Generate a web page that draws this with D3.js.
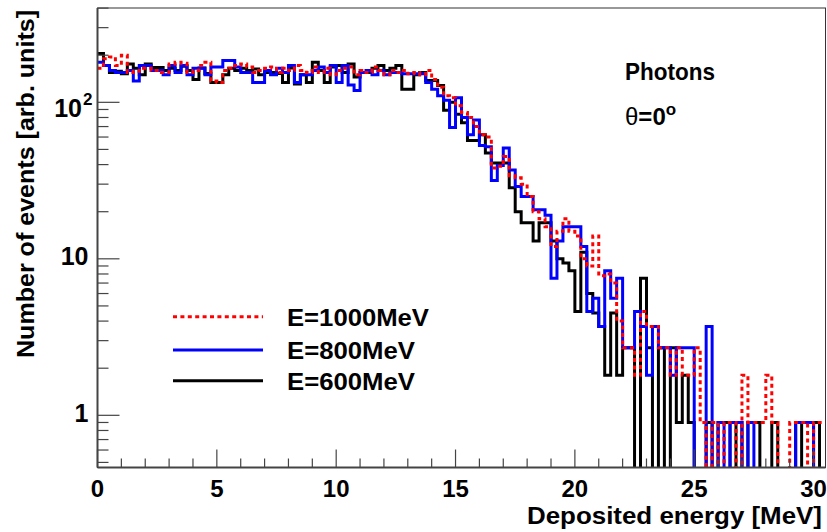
<!DOCTYPE html>
<html><head><meta charset="utf-8">
<script src="https://cdn.jsdelivr.net/npm/d3@7"></script>
<style>
body{margin:0;background:#fff}
svg text{font-family:"Liberation Sans",Arial,Helvetica,sans-serif;font-weight:bold;fill:#000}
</style>
</head><body>
<svg id="chart" width="827" height="532"></svg>
<script>
// ---- data ----
const binWidth = 0.25;
const e600 = [205,172,155,158,152,176,165,150,176,167, 167,160,165,160,170,160,140,166,153,134,
 134,150,165,160,165,160,163,150,155,155, 153,134,166,131,150,134,180,160,134,168,
 172,155,176,145,155,155,165,172,160,165, 172,121,121,150,155,138,138,128,89,100,
 84,74,57,57,62,47.5,41,41,41,28.5, 20,17,17,13,17,17,
 13,10,9.4,8.4,4.6,11,6,4.5,3.7,1.8, 4.5,1.8,2.7,2.7,0,7.5,2.7,0,2.7,0,
 2.7,0.9,1.8,0.9,0,0,0.9,0,0.9,0.9, 0,0.9,0,0.9,0.9,0,0,0.9,0,0, 0,0.9,0,0,0.9,0];
const e800 = [180,172,160,155,155,160,137,172,172,160, 160,150,172,155,172,150,165,165,150,168,
 168,185,185,168,155,155,134,134,160,150, 165,155,172,134,150,150,160,168,155,172,
 134,172,129,119,155,160,150,160,150,155, 155,152,152,152,152,134,121,110,103,69,
 107,80,62,77,53,52,31.6,39.5,51,37, 29,25,25,20.6,20.6,19,
 7.5,13,16,16,16,12,4.6,5.6,3.7,8.4, 5.6,7.5,2.7,2.7,4.6,3.7,1.8,3.7,2.7,2.7,
 1.8,2.7,2.7,2.7,0,0,3.7,0,0.9,0, 0.9,0.9,0,0.9,0,0,0,0,0,0, 0,0.9,0.9,0.9,0,0];
const e1000 = [165,190,195,172,200,155,158,165,165,160, 155,155,176,180,178,155,160,172,180,137,
 134,160,165,172,176,168,155,160,165,168, 155,165,160,172,160,155,168,155,165,150,
 160,165,168,150,160,155,168,160,150,160, 155,160,152,155,150,160,140,125,110,107,
 95,86,80,70,62,60,38,39,45,34, 33,30,25,20,18,16,
 12,15,18,15,14,10,9,14,7.8,8, 7,4,2.7,2.7,1.8,4.6,3.7,3.7,2.7,2.7,
 1.8,2.7,1.8,1.8,2.7,0.9,0,0.9,0,0.9, 0.9,0,1.8,0.9,0.9,0.9,1.8,0.9,0,0, 0.9,0.9,0.9,0,0.9,0.9];
const seriesNames = ["E=1000MeV","E=800MeV","E=600MeV"];
const seriesColors = ["#ff0000","#0000ff","#000000"];
const xTickValues = [0,5,10,15,20,25,30];
const yTickValues = [1,10,100];
const yTickBase = ["1","10","10"];
const yTickSup = ["","","2"];
const xTitle = "Deposited energy [MeV]";
const yTitle = "Number of events [arb. units]";

// ---- layout ----
const L = 97.5, R = 825.5, T = 8, B = 467.5;
const svg = d3.select("#chart");
const x = d3.scaleLinear().domain([0, 30.5]).range([L, R]);
const y = d3.scaleLog().domain([0.464, 400.6]).range([B, T]);

svg.append("defs").append("clipPath").attr("id","clip")
  .append("rect").attr("x",L).attr("y",T).attr("width",R-L).attr("height",B-T);

function stepPts(vals){
  const pts=[];
  vals.forEach((v,i)=>{
    const yy = v>0 ? y(v) : B+6;
    pts.push([x(i*binWidth), yy]);
    pts.push([x((i+1)*binWidth), yy]);
  });
  return pts;
}
const line = d3.line();
const g = svg.append("g").attr("clip-path","url(#clip)");
const order = [[e600,"#000000",null],[e800,"#0000ff",null],[e1000,"#ff0000","4,3.4"]];
order.forEach(([vals,col,dash])=>{
  const p = g.append("path").attr("d", line(stepPts(vals)))
    .attr("fill","none").attr("stroke",col).attr("stroke-width",3)
    .attr("stroke-linejoin","miter");
  if(dash) p.attr("stroke-dasharray",dash);
});

// frame
svg.append("rect").attr("x",L).attr("y",T).attr("width",R-L).attr("height",B-T)
  .attr("fill","none").attr("stroke","#333").attr("stroke-width",1);
svg.append("line").attr("x1",L).attr("x2",L).attr("y1",T).attr("y2",B).attr("stroke","#444").attr("stroke-width",2);
svg.append("line").attr("x1",L).attr("x2",R).attr("y1",B).attr("y2",B).attr("stroke","#444").attr("stroke-width",2);

// x ticks
d3.range(0, 31, 1).forEach(v=>{
  const major = xTickValues.includes(v);
  svg.append("line").attr("x1",x(v)).attr("x2",x(v)).attr("y1",B).attr("y2",B-(major?18:9))
    .attr("stroke","#444").attr("stroke-width",1.2);
});
svg.append("g").selectAll("text").data(xTickValues).join("text")
  .attr("x",d=>x(d)).attr("y",497).attr("text-anchor","middle").attr("font-size",24).text(d=>d);

// y ticks
const yMinor = [];
[0.1,1,10,100].forEach(dec=>{ for(let k=1;k<10;k++){ const v=dec*k; if(v>=0.464 && v<=400.6) yMinor.push(v);} });
yMinor.forEach(v=>{
  const major = yTickValues.includes(v);
  svg.append("line").attr("x1",L).attr("x2",L+(major?22:11)).attr("y1",y(v)).attr("y2",y(v))
    .attr("stroke","#444").attr("stroke-width",1.2);
});
yTickValues.forEach((v,i)=>{
  svg.append("text").attr("x", yTickSup[i]? 82 : 88.5).attr("y", y(v)+(yTickSup[i]?14.7:6.5))
    .attr("text-anchor","end").attr("font-size",25).text(yTickBase[i]);
  if(yTickSup[i]) svg.append("text").attr("x",83).attr("y",y(v)+3).attr("font-size",17).text(yTickSup[i]);
});

// axis titles
svg.append("text").attr("x",822).attr("y",523.5).attr("text-anchor","end").attr("font-size",23)
  .attr("textLength",295).attr("lengthAdjust","spacingAndGlyphs").text(xTitle);
svg.append("text").attr("transform","translate(34,10) rotate(-90)").attr("text-anchor","end")
  .attr("font-size",24).attr("textLength",348).attr("lengthAdjust","spacingAndGlyphs").text(yTitle);

// legend
const legY = [316.7, 350, 380.7];
seriesNames.forEach((n,i)=>{
  const ln = svg.append("line").attr("x1",173).attr("x2",263).attr("y1",legY[i]).attr("y2",legY[i])
    .attr("stroke",seriesColors[i]).attr("stroke-width",3);
  if(i===0) ln.attr("stroke-dasharray","4,3.4");
  svg.append("text").attr("x",287).attr("y",legY[i]+9).attr("font-size",24)
    .attr("textLength", [142,128,128][i]).attr("lengthAdjust","spacingAndGlyphs").text(n);
});

// annotations
svg.append("text").attr("x",625).attr("y",79.5).attr("font-size",24)
  .attr("textLength",90).attr("lengthAdjust","spacingAndGlyphs").text("Photons");
const th = svg.append("text").attr("x",625).attr("y",125).attr("font-size",24);
th.append("tspan").attr("font-weight","normal").text("θ");
th.append("tspan").text("=0");
th.append("tspan").attr("dy",-10).attr("font-size",17).text("o");
</script>
</body></html>
